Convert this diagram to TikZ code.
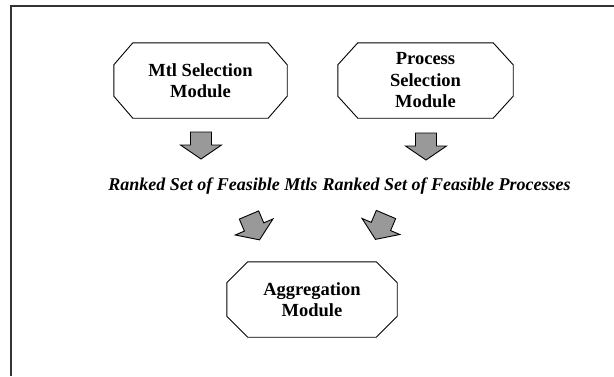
\documentclass[tikz,border=0pt]{standalone}
\usepackage{fontspec}
\setmainfont{Liberation Serif}
\usetikzlibrary{calc}
\tikzset{
  boxtext/.style={align=center, font=\fontsize{18.5}{21.5}\selectfont\bfseries, inner sep=0pt},
  lbl/.style={font=\fontsize{18}{21}\selectfont\bfseries\itshape, inner sep=0pt},
  octo/.style={draw=black, line width=0.9pt, line join=miter},
  blockarrow/.style={draw=black, fill=black!40, line width=0.9pt, line join=miter},
  frame/.style={draw=black!80, line width=1.3pt}
}
\newcommand{\octagon}[3]{% node name, chamfer x, chamfer y
  \draw[octo] ([xshift=#2]#1.north west) -- ([xshift=-#2]#1.north east)
    -- ([yshift=-#3]#1.north east) -- ([yshift=#3]#1.south east)
    -- ([xshift=-#2]#1.south east) -- ([xshift=#2]#1.south west)
    -- ([yshift=#3]#1.south west) -- ([yshift=-#3]#1.north west) -- cycle;}
\newcommand{\blockarr}[2]{% start point, rotation
  \draw[blockarrow, shift={#1}, rotate=#2] (-10.5,0) -- (10.5,0) -- (10.5,13) -- (20.5,13) -- (0,27) -- (-20.5,13) -- (-10.5,13) -- cycle;}
\begin{document}
\begin{tikzpicture}[x=1pt,y=-1pt]
\useasboundingbox (0,0) rectangle (614,376);
\draw[frame] (11,376) -- (11,6) -- (614,6);
% module boxes
\node[minimum width=173pt, minimum height=75pt, inner sep=0pt] (mtl) at (200.5,80.5) {};
\node[boxtext] at (mtl.center) {Mtl Selection\\Module};
\node[minimum width=175pt, minimum height=75pt, inner sep=0pt] (proc) at (425.5,80.5) {};
\node[boxtext] at (proc.center) {Process\\Selection\\Module};
\node[minimum width=170pt, minimum height=75pt, inner sep=0pt] (agg) at (312,299.5) {};
\node[boxtext] at (agg.center) {Aggregation\\Module};
\octagon{mtl}{19pt}{22pt}
\octagon{proc}{20pt}{22pt}
\octagon{agg}{21pt}{21pt}
% labels
\node[lbl, anchor=base east] (lmtl) at (317.5,190) {Ranked Set of Feasible Mtls};
\node[lbl, anchor=base west] (lproc) at (322.5,190) {Ranked Set of Feasible Processes};
% block arrows
\coordinate (a1) at (201,132);
\coordinate (a2) at (426,133);
\coordinate (a3) at (249,215);
\coordinate (a4) at (386,214.5);
\blockarr{(a1)}{0}
\blockarr{(a2)}{0}
\blockarr{(a3)}{23}
\blockarr{(a4)}{-23}
\end{tikzpicture}
\end{document}
